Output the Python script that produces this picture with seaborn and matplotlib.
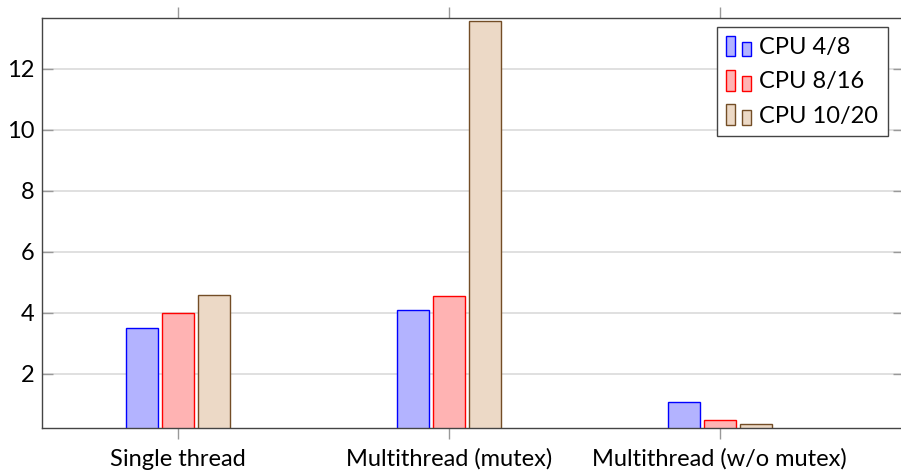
import numpy as np
import pandas as pd
import seaborn as sns
import matplotlib.pyplot as plt
from matplotlib.patches import Rectangle
from matplotlib.legend_handler import HandlerBase

# %% data
categories = ['Single thread', 'Multithread (mutex)', 'Multithread (w/o mutex)']
cpus = ['CPU 4/8', 'CPU 8/16', 'CPU 10/20']
cpu_4_8 = [3.51, 4.08, 1.08]
cpu_8_16 = [3.98, 4.55, 0.49]
cpu_10_20 = [4.58, 13.56, 0.35]
y_ticks = [2, 4, 6, 8, 10, 12]

fills = ['#b3b3ff', '#ffb3b3', '#ecd9c6']
edges = ['#0000ff', '#ff0000', '#734d26']

df = pd.DataFrame({
    'test': categories * 3,
    'cpu': np.repeat(cpus, len(categories)),
    'value': cpu_4_8 + cpu_8_16 + cpu_10_20,
})


# %% legend handle: two small bars like pgfplots
class TwoBars(HandlerBase):
    def create_artists(self, legend, orig, xdescent, ydescent, width,
                       height, fontsize, trans):
        fc = orig.get_facecolor()
        ec = orig.get_edgecolor()
        r1 = Rectangle((-xdescent, -ydescent), width * 0.34, height,
                       facecolor=fc, edgecolor=ec, lw=1, transform=trans)
        r2 = Rectangle((-xdescent + width * 0.65, -ydescent), width * 0.35,
                       height * 0.72, facecolor=fc, edgecolor=ec, lw=1,
                       transform=trans)
        return [r1, r2]


# %% plot
sns.set_theme(style='white')
plt.rcParams['font.family'] = ['Lato', 'DejaVu Sans']
plt.rcParams['text.color'] = 'black'
plt.rcParams['xtick.labelcolor'] = 'black'
plt.rcParams['ytick.labelcolor'] = 'black'

fig = plt.figure(figsize=(9.01, 4.73), dpi=100)
ax = fig.add_axes([41.7 / 901, 45.3 / 473, 862.3 / 901, 409.7 / 473])

sns.barplot(df, x='test', y='value', hue='cpu', palette=fills,
            width=0.4, gap=0.11, saturation=1, linewidth=1,
            legend=False, ax=ax)
for container, edge in zip(ax.containers, edges):
    for bar in container:
        bar.set_edgecolor(edge)

ax.set_xlim(-0.502, 2.68)
ax.set_ylim(0.228, 13.67)
ax.set_yticks(y_ticks)
ax.set_xlabel('')
ax.set_ylabel('')

ax.yaxis.grid(True, color='#dadada', lw=1.2)
ax.xaxis.grid(False)
ax.set_axisbelow(True)
ax.tick_params(axis='y', direction='in', length=8, width=1, color='#999999',
               left=True, right=True, labelsize=17, pad=5)
ax.tick_params(axis='x', direction='out', length=8, width=1, color='#999999',
               top=True, bottom=True, labelsize=17, pad=7)
for sp in ax.spines.values():
    sp.set_color('#444444')
    sp.set_linewidth(1)

handles = [Rectangle((0, 0), 1, 1, facecolor=f, edgecolor=e)
           for f, e in zip(fills, edges)]
leg = ax.legend(handles, cpus, handler_map={Rectangle: TwoBars()},
                loc='upper right', bbox_to_anchor=(0.981, 0.979),
                borderaxespad=0, fontsize=17, handlelength=1.05,
                handleheight=0.95, handletextpad=0.35, labelspacing=0.5,
                borderpad=0.4, fancybox=False, framealpha=1,
                edgecolor='#444444')
leg.get_frame().set_linewidth(1)

fig.savefig('out.png', dpi=100)
